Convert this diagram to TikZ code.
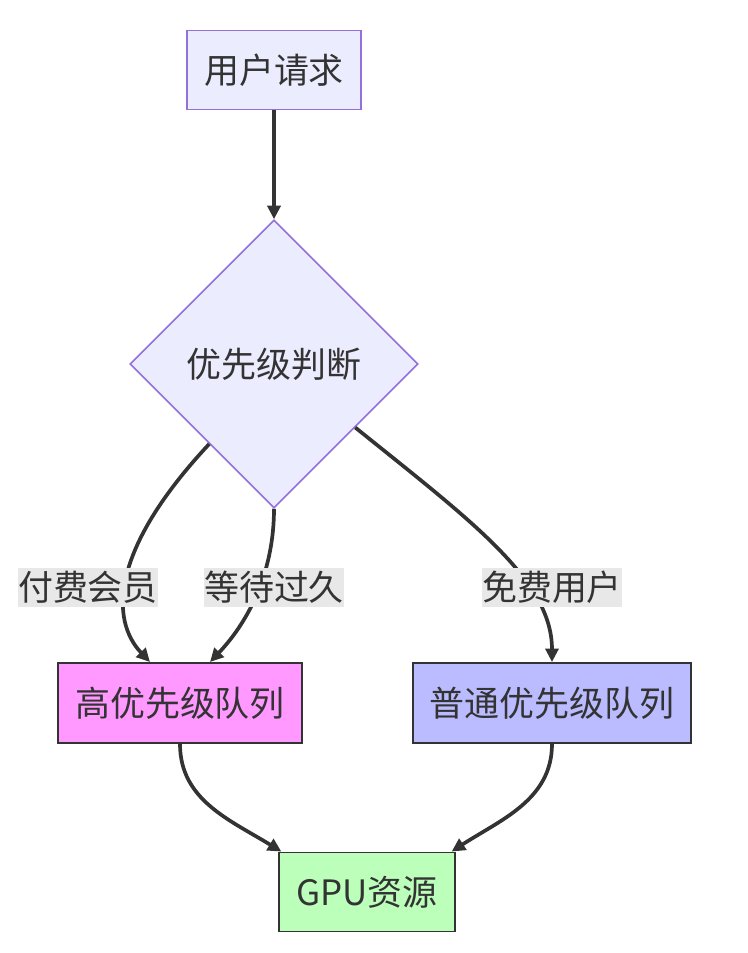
\documentclass[tikz,border=0pt]{standalone}
\usepackage{fontspec}
\setmainfont{Noto Sans CJK SC}
\usepackage{tikz}
\usetikzlibrary{shapes.geometric,arrows.meta}
\definecolor{lila}{HTML}{ECECFF}
\definecolor{bordelila}{HTML}{9370DB}
\definecolor{rosa}{HTML}{FF99FF}
\definecolor{azul}{HTML}{BBBBFF}
\definecolor{verde}{HTML}{BBFFBB}
\definecolor{gris}{HTML}{E8E8E8}
\definecolor{oscuro}{HTML}{333333}
\tikzstyle{solicitud} = [draw=bordelila, fill=lila, line width=0.9pt, rectangle, inner xsep=0.34cm, minimum height=1.58cm, text=oscuro]
\tikzstyle{decision} = [draw=bordelila, fill=lila, line width=0.9pt, diamond, aspect=1, inner sep=0pt, minimum width=5.76cm, minimum height=5.76cm, text=oscuro]
\tikzstyle{cola} = [draw=oscuro, line width=1.1pt, rectangle, inner xsep=0.34cm, minimum height=1.6cm, text=oscuro]
\tikzstyle{etiqueta} = [fill=gris, inner xsep=0pt, inner ysep=0pt, minimum height=0.78cm, text=oscuro]
\tikzstyle{flecha} = [draw=oscuro, line width=2.1pt, -{Triangle[length=0.27cm,width=0.26cm]}]

\begin{document}
\begin{tikzpicture}[x=0.02cm, y=-0.02cm, font=\fontsize{19.9pt}{24pt}\selectfont]
	\useasboundingbox (0,0) rectangle (747,953);
	\node[solicitud](req) at (274,70) {用户请求};
	\node[decision](dec) at (274,364) {优先级判断};
	\node[cola, fill=rosa](high) at (180,703) {高优先级队列};
	\node[cola, fill=azul](normal) at (552,703) {普通优先级队列};
	\node[cola, fill=verde, minimum height=1.58cm](gpu) at (367,892) {GPU资源};

	\draw[flecha] (req.south) -- (dec.north);
	\draw[flecha] (dec.231) .. controls (110,550) and (110,620) .. ([xshift=-0.6cm]high.north);
	\draw[flecha] (dec.south) .. controls (274,570) and (250,620) .. ([xshift=0.6cm]high.north);
	\draw[flecha] (dec.-38) .. controls (470,520) and (552,580) .. (normal.north);
	\draw[flecha] (high.south) .. controls (180,800) and (230,820) .. ([xshift=0.06cm]gpu.north west);
	\draw[flecha] (normal.south) .. controls (552,800) and (500,820) .. ([xshift=-0.08cm]gpu.north east);

	\node[etiqueta](pago) at (88,587) {付费会员};
	\node[etiqueta](espera) at (274,587) {等待过久};
	\node[etiqueta](gratis) at (552,587) {免费用户};
\end{tikzpicture}
\end{document}
